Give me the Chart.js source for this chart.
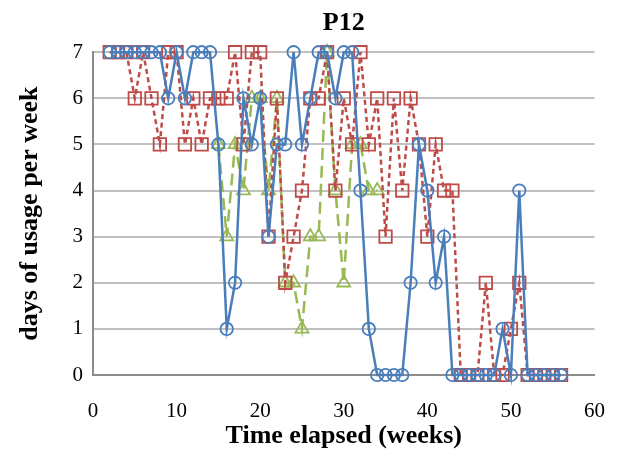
<!DOCTYPE html>
<html>
<head>
<meta charset="utf-8">
<script src="https://cdn.jsdelivr.net/npm/chart.js@4/dist/chart.umd.min.js"></script>
<style>
  html, body { margin: 0; padding: 0; background: #fff; }
  #wrap { width: 629px; height: 454px; }
</style>
</head>
<body>
<div id="wrap"><canvas id="chart" width="629" height="454"></canvas></div>
<script>
// weeks 2..56
const weeks = [];
for (let w = 2; w <= 56; w++) weeks.push(w);

const blueValues = [7,7,7,7,7,7, 7,6,7,6,7,7,7,5,1,2, 6,5,6,3,5,5,7,5,6,7,
  7,6,7,7,4,1,0,0,0,0, 2,5,4,2,3,0,0,0,0,0, 0,1,0,4,0,0,0,0,0];

const redValues = [7,7,7,6,7,6,5,7,7,5, 6,5,6,6,6,7,5,7,7,3,
  6,2,3,4,6,6,7,4,6,5, 7,5,6,3,6,4,6,5,3,5, 4,4,0,0,0,2,0,0,1,2, 0,0,0,0,0];

// green series runs weeks 15..34
const greenWeeks = [];
for (let w = 15; w <= 34; w++) greenWeeks.push(w);
const greenValues = [5,3,5,4,6,6,4,6,2,2,1,3,3,7,4,2,5,5,4,4];

const xTicks = [0, 10, 20, 30, 40, 50, 60];
const yTicks = [0, 1, 2, 3, 4, 5, 6, 7];

const toPoints = (xs, ys) => xs.map((x, i) => ({ x: x, y: ys[i] }));

const serif = '"Liberation Serif", "Times New Roman", serif';

new Chart(document.getElementById('chart'), {
  type: 'line',
  data: {
    datasets: [
      {
        label: 'blue',
        data: toPoints(weeks, blueValues),
        borderColor: '#4A7EBB',
        borderWidth: 2.5,
        pointStyle: 'circle',
        pointRadius: 6.2,
        pointBorderWidth: 1.8,
        pointBorderColor: '#4A7EBB',
        pointBackgroundColor: 'rgba(0,0,0,0)',
        tension: 0
      },
      {
        label: 'red',
        data: toPoints(weeks, redValues),
        borderColor: '#BE4B48',
        borderWidth: 2.5,
        borderDash: [5, 3.5],
        pointStyle: 'rect',
        pointRadius: 8.8,
        pointBorderWidth: 1.8,
        pointBorderColor: '#BE4B48',
        pointBackgroundColor: 'rgba(0,0,0,0)',
        tension: 0
      },
      {
        label: 'green',
        data: toPoints(greenWeeks, greenValues),
        borderColor: '#98B954',
        borderWidth: 2.5,
        borderDash: [12, 6],
        pointStyle: 'triangle',
        pointRadius: 7.5,
        pointBorderWidth: 1.8,
        pointBorderColor: '#98B954',
        pointBackgroundColor: 'rgba(0,0,0,0)',
        tension: 0
      }
    ]
  },
  options: {
    responsive: false,
    animation: false,
    clip: false,
    layout: { padding: { left: 0, right: 33, top: 0, bottom: 0 } },
    plugins: {
      legend: { display: false },
      tooltip: { enabled: false },
      title: {
        display: true,
        text: 'P12',
        fullSize: false,
        color: '#000',
        font: { family: serif, size: 26, weight: 'bold', lineHeight: 1.2 },
        padding: { top: 8, bottom: 13 }
      }
    },
    scales: {
      x: {
        type: 'linear',
        min: 0,
        max: 60,
        afterBuildTicks: axis => { axis.ticks = xTicks.map(v => ({ value: v })); },
        afterFit: axis => { axis.height = 79; },
        grid: { display: false, drawTicks: false },
        border: { display: true, color: '#8c8c8c', width: 2 },
        ticks: {
          color: '#000',
          padding: 24,
          maxRotation: 0,
          font: { family: serif, size: 21 }
        },
        title: {
          display: true,
          text: 'Time elapsed (weeks)',
          color: '#000',
          font: { family: serif, size: 26, weight: 'bold', lineHeight: 1.2 },
          padding: { top: 0, bottom: 2 }
        }
      },
      y: {
        min: 0,
        max: 7,
        afterBuildTicks: axis => { axis.ticks = yTicks.map(v => ({ value: v })); },
        afterFit: axis => { axis.width = 93; },
        grid: { color: '#c0c0c0', lineWidth: 2, drawTicks: false },
        border: { display: true, color: '#8c8c8c', width: 2 },
        ticks: {
          color: '#000',
          padding: 10,
          font: { family: serif, size: 21 }
        },
        title: {
          display: true,
          text: 'days of usage per week',
          color: '#000',
          font: { family: serif, size: 26, weight: 'bold', lineHeight: 1.2 },
          padding: { top: 15, bottom: 0 }
        }
      }
    }
  }
});
</script>
</body>
</html>
